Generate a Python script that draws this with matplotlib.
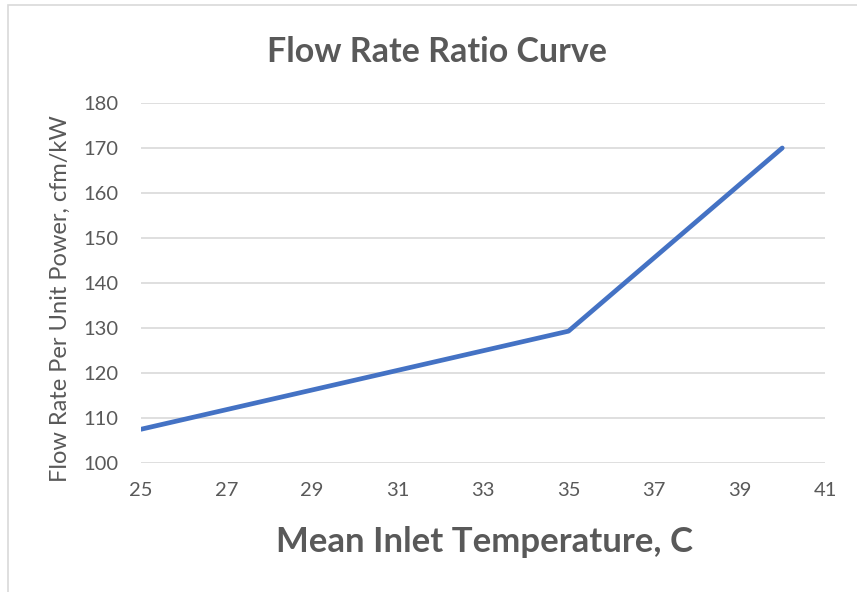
import matplotlib
matplotlib.use("Agg")
import matplotlib.pyplot as plt
from matplotlib.patches import Rectangle

# data
temp = [25, 35, 40]
flow = [107.5, 129.3, 170]
xticks = list(range(25, 42, 2))
yticks = list(range(100, 181, 10))

BLUE, GRID, TXT = "#4472C4", "#D9D9D9", "#595959"
plt.rcParams.update({"font.family": ["Lato", "DejaVu Sans"]})

W, H = 857, 592
fig = plt.figure(figsize=(W / 100, H / 100), dpi=100)
fig.patch.set_facecolor("white")

# chart-area border (runs off the right and bottom edges like the crop)
fig.patches.append(Rectangle((8 / W, -0.2), 1.2, 1.2 - 5 / H,
                             transform=fig.transFigure, fill=False,
                             edgecolor=GRID, linewidth=1.2, clip_on=False))

ax = fig.add_axes([141 / W, 1 - 463 / H, (825 - 141) / W, (463 - 103) / H])
ax.plot(temp, flow, color=BLUE, linewidth=3.4, solid_capstyle="round",
        solid_joinstyle="round", zorder=3)

ax.set_xlim(25, 41)
ax.set_ylim(100, 180)
ax.set_xticks(xticks)
ax.set_yticks(yticks)
ax.grid(axis="y", color=GRID, linewidth=1.2, zorder=0)
for s in ax.spines.values():
    s.set_visible(False)
ax.tick_params(length=0, labelsize=14.5, colors=TXT)
ax.tick_params(axis="x", pad=14)
ax.tick_params(axis="y", pad=16)

fig.text(437 / W, 1 - 62 / H, "Flow Rate Ratio Curve", fontsize=24.5,
         fontweight="bold", color=TXT, ha="center", va="baseline")
fig.text(484 / W, 1 - 552 / H, "Mean Inlet Temperature, C", fontsize=25,
         fontweight="bold", color=TXT, ha="center", va="baseline")
fig.text(60 / W, 1 - 299 / H, "Flow Rate Per Unit Power, cfm/kW",
         fontsize=17, color=TXT, rotation=90, ha="center", va="center")

fig.savefig("out.png", dpi=100)
